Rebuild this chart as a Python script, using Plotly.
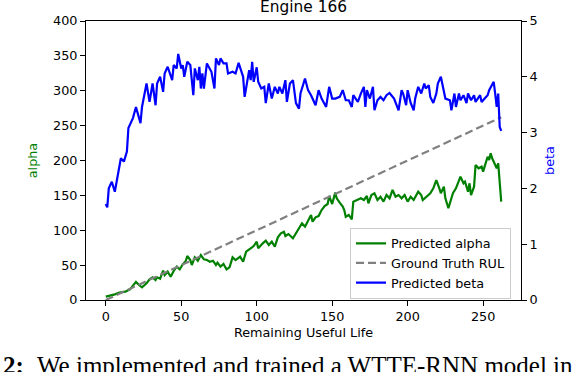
import plotly.graph_objects as go

# Remaining useful life (x) and predicted Weibull parameters
alpha_rul = [0, 3, 6, 9, 13, 16, 18, 20, 22, 24, 27, 29, 31, 33, 34, 36, 38, 39, 41, 43,
             45, 47, 49, 51, 53, 54, 56, 57, 59, 61, 63, 65, 67, 69, 71, 73, 74, 76, 78, 80,
             82, 84, 86, 89, 91, 93, 96, 98, 100, 101, 104, 106, 108, 110, 112, 114, 116, 118, 119, 121,
             124, 126, 128, 130, 132, 134, 136, 137, 139, 141, 143, 145, 147, 148, 150, 152, 153, 155, 157, 158,
             159, 161, 163, 164, 167, 169, 171, 173, 174, 176, 178, 180, 182, 184, 186, 188, 190, 192, 194, 196,
             198, 200, 202, 204, 207, 209, 210, 213, 215, 217, 219, 221, 222, 224, 225, 227, 228, 230, 232, 233,
             235, 237, 238, 240, 241, 242, 244, 245, 247, 249, 250, 252, 253, 254, 255, 256, 258, 259, 260, 261,
             262]
alpha_pred = [4.8, 6.2, 8.1, 10.5, 11.9, 15.3, 21.0, 26.0, 21.5, 18.2, 23.9, 29.7, 32.5, 28.7, 32.5, 30.6, 42.0, 35.8, 40.6, 33.4,
              41.6, 47.8, 44.0, 51.2, 55.9, 63.1, 57.3, 50.2, 61.2, 56.3, 64.5, 58.3, 57.3, 54.9, 56.3, 50.2, 53.5, 47.8, 51.6, 44.0,
              46.9, 61.2, 57.3, 62.1, 54.9, 69.2, 74.1, 77.4, 83.6, 74.1, 81.3, 85.0, 78.9, 83.6, 76.4, 89.9, 95.6, 97.9, 91.8, 94.6,
              88.5, 95.6, 102.8, 110.0, 105.1, 113.7, 121.9, 112.3, 118.6, 120.4, 129.0, 134.8, 137.6, 149.1, 137.6, 153.9, 145.8, 139.5, 133.8, 129.0,
              119.4, 121.9, 115.7, 141.0, 143.4, 145.8, 143.4, 149.1, 138.6, 150.5, 153.0, 143.4, 148.1, 141.0, 150.5, 145.8, 157.7, 148.1, 150.5, 145.8,
              150.5, 141.0, 148.1, 143.4, 155.3, 150.5, 143.4, 149.1, 153.0, 160.1, 172.0, 160.1, 153.0, 162.5, 145.8, 131.5, 138.6, 153.0, 160.1, 164.9,
              176.8, 167.3, 169.6, 155.3, 167.3, 150.5, 162.5, 193.5, 188.8, 191.1, 184.0, 198.3, 205.4, 200.7, 210.3, 203.2, 193.5, 188.8, 196.0, 167.3,
              141.0]

gt_rul = [0, 262]
gt_value = [0, 262]

beta_rul = [0, 1, 2, 4, 6, 8, 10, 12, 14, 15, 18, 20, 23, 24, 27, 29, 31, 33, 34, 36,
            38, 39, 41, 44, 45, 47, 48, 50, 51, 52, 54, 56, 58, 59, 61, 62, 63, 64, 65, 67,
            69, 70, 72, 73, 75, 76, 78, 80, 81, 84, 86, 88, 91, 92, 95, 96, 97, 98, 100, 101,
            103, 105, 106, 108, 110, 112, 114, 115, 117, 119, 120, 122, 124, 126, 128, 129, 131, 132, 134, 136,
            139, 141, 143, 146, 148, 150, 152, 155, 157, 159, 161, 163, 164, 167, 169, 171, 172, 173, 175, 177,
            178, 180, 182, 184, 186, 188, 191, 192, 194, 196, 197, 199, 200, 202, 204, 205, 207, 209, 211, 212,
            214, 215, 217, 219, 220, 222, 224, 225, 228, 229, 231, 232, 234, 235, 237, 239, 240, 242, 244, 245,
            248, 249, 251, 253, 254, 256, 257, 258, 259, 260, 261, 262]
beta_pred = [1.72, 1.66, 2.00, 2.12, 1.94, 2.24, 2.54, 2.48, 2.66, 3.08, 3.26, 3.46, 3.17, 3.46, 3.88, 3.55, 3.88, 3.49, 3.88, 4.00,
             3.73, 4.06, 4.18, 3.94, 4.21, 4.15, 4.41, 4.15, 4.21, 4.00, 4.27, 4.21, 3.67, 4.15, 3.94, 4.18, 3.79, 4.06, 3.79, 4.24,
             4.15, 4.09, 3.79, 4.33, 4.21, 4.33, 4.24, 4.24, 4.06, 4.09, 4.06, 4.25, 4.00, 3.64, 4.12, 3.94, 4.27, 3.91, 4.17, 3.91,
             3.79, 3.82, 3.53, 3.88, 3.61, 3.82, 3.70, 3.82, 3.70, 3.94, 3.55, 3.88, 3.94, 3.53, 3.43, 3.70, 3.88, 3.97, 3.76, 3.67,
             3.49, 3.76, 3.61, 3.46, 3.82, 3.61, 3.61, 3.64, 3.76, 3.58, 3.58, 3.46, 3.67, 3.55, 3.70, 3.82, 3.46, 3.76, 3.61, 3.82,
             3.40, 3.58, 3.64, 3.58, 3.67, 3.71, 3.61, 3.53, 3.40, 3.76, 3.70, 3.49, 3.76, 3.53, 3.40, 3.61, 3.82, 3.70, 3.88, 3.79,
             3.85, 3.64, 3.53, 3.70, 3.88, 4.00, 3.70, 3.61, 3.58, 3.40, 3.70, 3.46, 3.70, 3.58, 3.67, 3.53, 3.70, 3.58, 3.67, 3.55,
             3.67, 3.55, 3.61, 3.67, 3.76, 3.88, 3.91, 3.70, 3.46, 3.70, 3.10, 3.03]

alpha_ticks = [0, 50, 100, 150, 200, 250, 300, 350, 400]
beta_ticks = [0, 1, 2, 3, 4, 5]
rul_ticks = [0, 50, 100, 150, 200, 250]

FONT = "DejaVu Sans"
W, H = 572, 372
L, R, T, B = 86, 51, 21, 72

fig = go.Figure()
fig.add_trace(go.Scatter(x=alpha_rul, y=alpha_pred, mode="lines", name="Predicted alpha",
                         line=dict(color="#008000", width=2.2), yaxis="y"))
fig.add_trace(go.Scatter(x=gt_rul, y=gt_value, mode="lines", name="Ground Truth RUL",
                         line=dict(color="#808080", width=2.2, dash="8px,4px"), yaxis="y"))
fig.add_trace(go.Scatter(x=beta_rul, y=beta_pred, mode="lines", name="Predicted beta",
                         line=dict(color="#0000ff", width=2.2), yaxis="y2"))

axis_common = dict(showgrid=False, zeroline=False, showline=True, linecolor="black", linewidth=1,
                   ticks="outside", ticklen=5, tickwidth=1, tickcolor="black", automargin=False,
                   tickfont=dict(family=FONT, size=12.8, color="black"))

# pixel (from top of the page) -> paper coords
def py(p):
    return (H - B - p) / (H - B - T)

def px(p):
    return (p - L) / (W - L - R)

fig.update_layout(
    width=W, height=H,
    margin=dict(l=L, r=R, t=T, b=B, autoexpand=False),
    paper_bgcolor="white", plot_bgcolor="white",
    showlegend=True,
    xaxis=dict(range=[-13.1, 275.1], tickvals=rul_ticks, mirror=True,
               title=dict(text="Remaining Useful Life", font=dict(family=FONT, size=12.8, color="black"), standoff=4),
               **axis_common),
    yaxis=dict(range=[0, 400], tickvals=alpha_ticks,
               title=dict(text="alpha", font=dict(family=FONT, size=12.8, color="#008000"), standoff=12),
               **axis_common),
    yaxis2=dict(range=[0, 5], tickvals=beta_ticks, overlaying="y", side="right",
                title=dict(text="beta", font=dict(family=FONT, size=12.8, color="#0000ff"), standoff=8),
                **axis_common),
    legend=dict(x=px(350), y=py(298.5), xanchor="left", yanchor="bottom",
                bgcolor="rgba(255,255,255,0.8)", bordercolor="#cccccc", borderwidth=1,
                font=dict(family=FONT, size=12.8, color="black"), itemwidth=30,
                tracegroupgap=0),
    annotations=[
        dict(text="Engine 166", xref="paper", yref="paper", x=0.5, y=py(7), xanchor="center", yanchor="middle",
             showarrow=False, font=dict(family=FONT, size=15.4, color="black")),
        dict(text="<b>2:</b>", xref="paper", yref="paper", x=px(26), y=py(350), xanchor="right", yanchor="top",
             showarrow=False, font=dict(family="Liberation Serif", size=25, color="black")),
        dict(text="We implemented and trained a WTTE-RNN model in", xref="paper", yref="paper",
             x=px(35), y=py(350), xanchor="left", yanchor="top",
             showarrow=False, font=dict(family="Liberation Serif", size=25, color="black")),
    ],
)

# drop the browser's default 8px body margin so the figure sits at the page corner
fig.write_html("out.html", config={"displayModeBar": False},
               post_script="document.body.style.margin='0';")
